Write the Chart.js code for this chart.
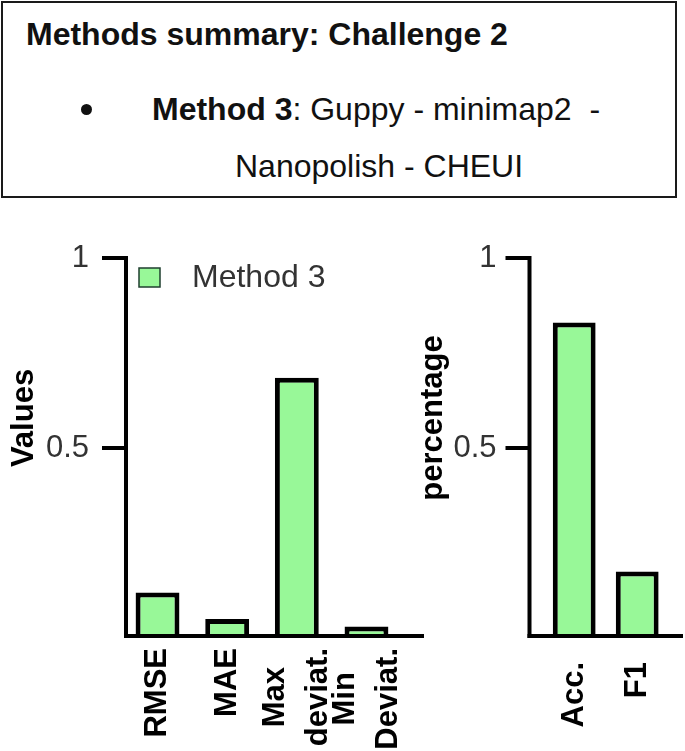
<!DOCTYPE html>
<html>
<head>
<meta charset="utf-8">
<title>Methods summary: Challenge 2</title>
<script src="https://cdn.jsdelivr.net/npm/chart.js@4"></script>
<style>
  html, body { margin: 0; padding: 0; background: #fff; }
  #page {
    position: relative;
    width: 685px;
    height: 751px;
    overflow: hidden;
    font-family: 'Liberation Sans', Arial, sans-serif;
  }
  #summary {
    position: absolute;
    left: 1px;
    top: 1px;
    width: 672px;
    height: 193px;
    border: 2px solid #1a1a1a;
  }
  .line {
    position: absolute;
    white-space: pre;
    font-size: 32px;
    line-height: 32px;
    color: #111;
  }
  .bullet {
    position: absolute;
    left: 81px;
    top: 104px;
    width: 11px;
    height: 11px;
    border-radius: 50%;
    background: #111;
  }
  canvas { position: absolute; left: 0; top: 0; }
</style>
</head>
<body>
<div id="page">
  <div id="summary"></div>
  <div class="line" style="left:26px; top:18px; font-weight:bold;">Methods summary: Challenge 2</div>
  <div class="bullet"></div>
  <div class="line" style="left:152px; top:93px;"><b>Method 3</b>: Guppy - minimap2  -</div>
  <div class="line" style="left:235px; top:150px;">Nanopolish - CHEUI</div>
  <canvas id="chart-values" width="685" height="751"></canvas>
  <canvas id="chart-percent" width="685" height="751"></canvas>
</div>

<script>
const seriesName = 'Method 3';

const metricLabels = [['RMSE'], ['MAE'], ['Max', 'deviat.'], ['Min', 'Deviat.']];
const metricValues = [0.12, 0.05, 0.685, 0.03];

const scoreLabels = [['Acc.'], ['F1']];
const scoreValues = [0.83, 0.175];

const yTickValues = [1, 0.5];
const yTickLabels = ['1', '0.5'];

const FONT = "'Liberation Sans', Arial, sans-serif";
const GREEN = '#98F898';

// GraphPad-like axes: thick lines, outward ticks, rotated category labels
const prismAxes = {
  id: 'prismAxes',
  afterDatasetsDraw(chart, args, o) {
    const { ctx, chartArea: area, scales: { x, y } } = chart;
    const ax = area.left + o.axisShift;
    const y0 = y.getPixelForValue(0);
    const yTop = y.getPixelForValue(y.max);

    ctx.save();
    ctx.fillStyle = '#000';
    ctx.fillRect(ax - 2, yTop - 2, 4, y0 - yTop + 2);
    ctx.fillRect(ax - 2, y0 - 4, area.right + o.xAxisExtend - ax + 2, 4);

    ctx.font = `31px ${FONT}`;
    ctx.textAlign = 'right';
    ctx.textBaseline = 'middle';
    yTickValues.forEach((v, i) => {
      const py = y.getPixelForValue(v);
      ctx.fillStyle = '#000';
      ctx.fillRect(ax - 24, py - 2, 24, 4);
      ctx.fillStyle = '#333';
      ctx.fillText(yTickLabels[i], ax - o.tickLabelGap, py);
    });

    // axis title, reading bottom to top
    ctx.fillStyle = '#000';
    ctx.font = `bold 31px ${FONT}`;
    ctx.save();
    ctx.translate(ax + o.titleShift, y.getPixelForValue(0.5) - 30);
    ctx.rotate(-Math.PI / 2);
    ctx.textAlign = 'center';
    ctx.textBaseline = 'alphabetic';
    ctx.fillText(o.title, 0, 0);
    ctx.restore();

    // category labels, lines centred inside a block hung under the axis
    x.getLabels().forEach((lines, i) => {
      const cx = x.getPixelForValue(i);
      const w = Math.max(...lines.map(l => ctx.measureText(l).width));
      ctx.save();
      ctx.translate(cx, y0 + o.labelOffset + w / 2);
      ctx.rotate(-Math.PI / 2);
      ctx.textAlign = 'center';
      ctx.textBaseline = 'middle';
      lines.forEach((l, j) => ctx.fillText(l, 0, (j - (lines.length - 1) / 2) * 43));
      ctx.restore();
    });

    if (o.legend) {
      const ds = chart.data.datasets[0];
      const lx = area.left + o.legend.dx;
      const ly = yTop + o.legend.dy;
      ctx.fillStyle = ds.backgroundColor;
      ctx.fillRect(lx, ly, 21, 19);
      ctx.strokeStyle = '#1f3f2f';
      ctx.lineWidth = 1.5;
      ctx.strokeRect(lx, ly, 21, 19);
      ctx.fillStyle = '#333';
      ctx.font = `32px ${FONT}`;
      ctx.textAlign = 'left';
      ctx.textBaseline = 'middle';
      ctx.fillText(ds.label, lx + 53, ly + 10);
    }
    ctx.restore();
  }
};

function makeChart(id, labels, values, opts) {
  return new Chart(document.getElementById(id), {
    type: 'bar',
    data: {
      labels,
      datasets: [{
        label: seriesName,
        data: values,
        backgroundColor: GREEN,
        borderColor: '#000',
        borderWidth: 5,
        borderSkipped: 'start',
        barPercentage: opts.barPct,
        categoryPercentage: 1
      }]
    },
    options: {
      responsive: false,
      animation: false,
      layout: { padding: opts.padding },
      scales: {
        x: { display: false },
        y: { display: false, min: 0, max: 1 }
      },
      plugins: {
        legend: { display: false },
        tooltip: { enabled: false },
        prismAxes: opts.axes
      }
    },
    plugins: [prismAxes]
  });
}

makeChart('chart-values', metricLabels, metricValues, {
  barPct: 0.63,
  padding: { left: 122.7, right: 283.7, top: 258, bottom: 113 },
  axes: {
    axisShift: 3.3, xAxisExtend: 22.7, tickLabelGap: 37,
    titleShift: -93, title: 'Values', labelOffset: 10,
    legend: { dx: 16.3, dy: 10 }
  }
});

makeChart('chart-percent', scoreLabels, scoreValues, {
  barPct: 0.68,
  padding: { left: 542.7, right: 16.3, top: 258, bottom: 113 },
  axes: {
    axisShift: -13.2, xAxisExtend: 14.3, tickLabelGap: 33,
    titleShift: -87.5, title: 'percentage', labelOffset: 24,
    legend: null
  }
});
</script>
</body>
</html>
